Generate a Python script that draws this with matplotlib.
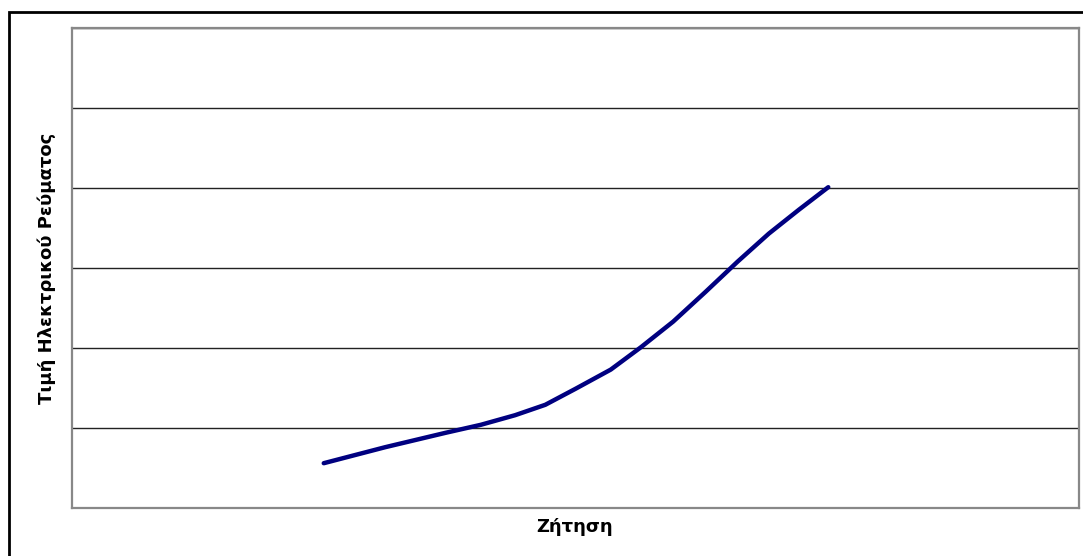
import numpy as np
import matplotlib
matplotlib.use('Agg')
import matplotlib.pyplot as plt
from matplotlib.patches import Rectangle

# demand (x) vs electricity price (y)
demand = [25.0, 31.1, 37.1, 40.6, 44.0, 47.0, 50.0, 53.5, 56.5, 59.7, 62.9, 66.1, 69.2, 72.2, 75.1]
price = [0.56, 0.76, 0.94, 1.04, 1.16, 1.29, 1.49, 1.73, 2.01, 2.33, 2.70, 3.08, 3.43, 3.73, 4.01]
grid_levels = [0, 1, 2, 3, 4, 5, 6]

W, H = 1083, 556
fig = plt.figure(figsize=(W/100, H/100), dpi=100)

#outer chart border (runs off right/bottom edge)
fig.patches.append(Rectangle((9/W, 1-(H+10)/H), (W+10)/W, (H-12+10)/H, transform=fig.transFigure,
                             fill=False, edgecolor='black', lw=2, zorder=0))

ax = fig.add_axes([72/W, 1-508/H, (1079-72)/W, (508-28)/H])
ax.plot(demand, price, color='#000080', lw=3.2, solid_capstyle='round', solid_joinstyle='round', zorder=3)
ax.set_xlim(0, 100)
ax.set_ylim(0, 6)
ax.set_yticks(grid_levels)
ax.set_yticklabels([])
ax.set_xticks([])
ax.grid(axis='y', color='#222222', lw=1)
ax.tick_params(axis='y', length=0)
for s in ax.spines.values():
    s.set_color('#888888')
    s.set_linewidth(1.6)

fig.text(575/W, 1-527/H, 'Ζήτηση', ha='center', va='center', fontsize=13, fontweight='bold')
fig.text(47/W, 1-268/H, 'Τιμή Ηλεκτρικού Ρεύματος', ha='center', va='center', rotation=90,
         fontsize=13, fontweight='bold')

fig.savefig('out.png', dpi=100)
